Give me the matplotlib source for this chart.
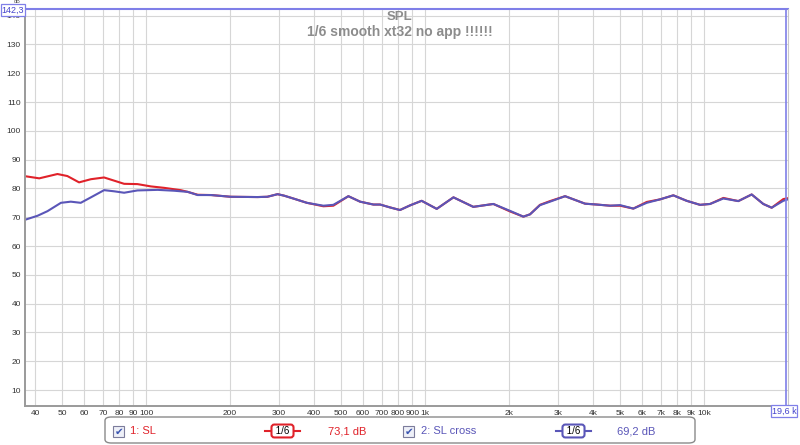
import matplotlib
matplotlib.use("Agg")
import matplotlib.pyplot as plt
from matplotlib.patches import FancyBboxPatch, Rectangle
from matplotlib.lines import Line2D

plt.rcParams['font.family'] = ['Liberation Sans', 'DejaVu Sans']

# Trace 2: SL cross (blue)
blue_freq = [36.5, 40.8, 44.3, 49.5, 53.7, 58.3, 63.4, 70.7, 76.8, 83.4, 93.1, 110, 126, 141, 153,
             171, 201, 251, 272, 296, 312, 337, 377, 432, 469, 531, 585, 653, 690, 749, 813, 883,
             972, 1101, 1264, 1489, 1757, 2017, 2251, 2378, 2582, 2805, 3176, 3746, 4125, 4604,
             5000, 5581, 6232, 6957, 7762, 8665, 9676, 10510, 11730, 13270, 14820, 16310, 17480,
             19240, 20000]
blue_db = [69.0, 70.5, 72.1, 75.0, 75.4, 75.0, 76.9, 79.4, 79.0, 78.5, 79.3, 79.5, 79.2, 78.8, 77.7,
           77.7, 77.1, 77.0, 77.1, 78.0, 77.5, 76.5, 75.0, 74.0, 74.3, 77.3, 75.4, 74.4, 74.4, 73.4,
           72.5, 74.1, 75.7, 72.9, 76.9, 73.6, 74.6, 72.2, 70.2, 71.0, 74.2, 75.4, 77.3, 74.7, 74.4,
           74.0, 74.2, 73.0, 75.0, 76.2, 77.6, 75.7, 74.3, 74.6, 76.5, 75.6, 77.9, 74.6, 73.3, 75.7,
           76.2]

# Trace 1: SL (red)
red_freq = [36.5, 41.4, 48.1, 52.2, 57.5, 63.4, 70.7, 76.8, 83.4, 93.1, 104, 116, 133, 141, 153,
            171, 201, 251, 272, 296, 312, 337, 377, 432, 469, 531, 585, 653, 690, 749, 813, 883,
            972, 1101, 1264, 1489, 1757, 2017, 2251, 2378, 2582, 2805, 3176, 3746, 4125, 4604,
            5000, 5581, 6232, 6957, 7762, 8665, 9676, 10510, 11730, 13270, 14820, 16310, 17480,
            19240, 20000]
red_db = [84.3, 83.5, 85.0, 84.3, 82.1, 83.2, 83.8, 82.7, 81.6, 81.5, 80.7, 80.2, 79.4, 78.8, 77.8,
          77.7, 77.1, 77.0, 77.1, 78.0, 77.5, 76.5, 75.0, 73.8, 74.0, 77.3, 75.4, 74.4, 74.4, 73.4,
          72.5, 74.1, 75.7, 72.9, 76.9, 73.6, 74.6, 72.0, 70.2, 71.0, 74.3, 75.6, 77.3, 74.7, 74.4,
          74.0, 74.0, 73.0, 75.3, 76.2, 77.6, 75.7, 74.3, 74.6, 76.7, 75.6, 77.9, 74.6, 73.3, 76.3,
          76.6]

x_ticks = [40, 50, 60, 70, 80, 90, 100, 200, 300, 400, 500, 600, 700, 800, 900,
           1000, 2000, 3000, 4000, 5000, 6000, 7000, 8000, 9000, 10000]
x_labels = ['40', '50', '60', '70', '80', '90', '100', '200', '300', '400', '500', '600', '700',
            '800', '900', '1k', '2k', '3k', '4k', '5k', '6k', '7k', '8k', '9k', '10k']
y_ticks = list(range(10, 141, 10))

RED = '#e0222a'
BLUE = '#5a56b8'
CURSOR = '#7f7fe8'
GRID = '#d6d6d6'

fig = plt.figure(figsize=(8, 4.45), dpi=100)
W, H = 800, 445
ax = fig.add_axes([25 / W, 1 - 406 / H, 763 / W, 397 / H])

ax.set_xscale('log')
ax.set_xlim(36.8, 20000)
ax.set_ylim(4.45, 142.3)

ax.plot(red_freq, red_db, color=RED, lw=1.5, solid_joinstyle='round', solid_capstyle='round')
ax.plot(blue_freq, blue_db, color=BLUE, lw=1.5, solid_joinstyle='round', solid_capstyle='round')

ax.set_xticks(x_ticks)
ax.set_xticklabels(x_labels)
ax.xaxis.set_minor_locator(matplotlib.ticker.NullLocator())
ax.set_yticks(y_ticks)
ax.tick_params(length=0, labelsize=6, colors='#333333', pad=3)
ax.grid(True, color=GRID, lw=0.8)
ax.set_axisbelow(True)

for s in ['left', 'bottom']:
    ax.spines[s].set_color('#9a9a9a')
    ax.spines[s].set_linewidth(1.4)
ax.spines['right'].set_color('#c8c8c8')
ax.spines['top'].set_visible(False)

# cursors
ax.axhline(142.3, color=CURSOR, lw=1.5, clip_on=False)
ax.axvline(19600, color=CURSOR, lw=1.2)

# titles
fig.text(400 / W, 1 - 17 / H, 'SPL', ha='center', va='center', fontsize=9.5,
         fontweight='bold', color='#8c8c8c')
fig.text(400 / W, 1 - 32 / H, '1/6 smooth xt32 no app !!!!!!', ha='center', va='center',
         fontsize=10, fontweight='bold', color='#8c8c8c')

# cursor value boxes
fig.text(17 / W, 1 - 1.5 / H, 'dB', ha='center', va='center', fontsize=4, color='#555555')
fig.text(13 / W, 1 - 10 / H, '142,3', ha='center', va='center', fontsize=6.5, color='#4444cc',
         bbox=dict(boxstyle='square,pad=0.12', fc='white', ec=CURSOR, lw=0.9))
fig.text(784 / W, 1 - 411 / H, '19,6 k', ha='center', va='center', fontsize=6.5, color='#4444cc',
         bbox=dict(boxstyle='square,pad=0.12', fc='white', ec=CURSOR, lw=0.9))


# legend panel
def fx(px):
    return px / W


def fy(py):
    return 1 - py / H


fig.patches.append(FancyBboxPatch((fx(105), fy(443)), fx(590), 26 / H,
                                  boxstyle='round,pad=0,rounding_size=0.008',
                                  transform=fig.transFigure, fc='white', ec='#8a8a8a', lw=1.0))


def checkbox(px):
    fig.patches.append(Rectangle((fx(px), fy(437)), 11 / W, 11 / H, transform=fig.transFigure,
                                 fc='#eef0f8', ec='#7c7c9c', lw=0.8))
    fig.text(fx(px + 5.8), fy(431.5), '\u2714', ha='center', va='center', fontsize=7.5,
             color='#3a55b0', family='DejaVu Sans')


def smooth_icon(x0, x1, color):
    fig.add_artist(Line2D([fx(x0), fx(x1)], [fy(431), fy(431)], color=color, lw=1.5,
                          transform=fig.transFigure))
    fig.text(fx((x0 + x1) / 2), fy(431), ' 1/6 ', ha='center', va='center', fontsize=7,
             color='black',
             bbox=dict(boxstyle='round,pad=0.15,rounding_size=0.3', fc='white', ec=color, lw=1.5))


checkbox(113)
fig.text(fx(130), fy(431), '1: SL', ha='left', va='center', fontsize=8, color=RED)
smooth_icon(265, 300, RED)
fig.text(fx(347), fy(431), '73,1 dB', ha='center', va='center', fontsize=8, color=RED)
checkbox(403)
fig.text(fx(421), fy(431), '2: SL cross', ha='left', va='center', fontsize=8, color=BLUE)
smooth_icon(556, 591, BLUE)
fig.text(fx(636), fy(431), '69,2 dB', ha='center', va='center', fontsize=8, color=BLUE)

fig.savefig('out.png', dpi=100)
